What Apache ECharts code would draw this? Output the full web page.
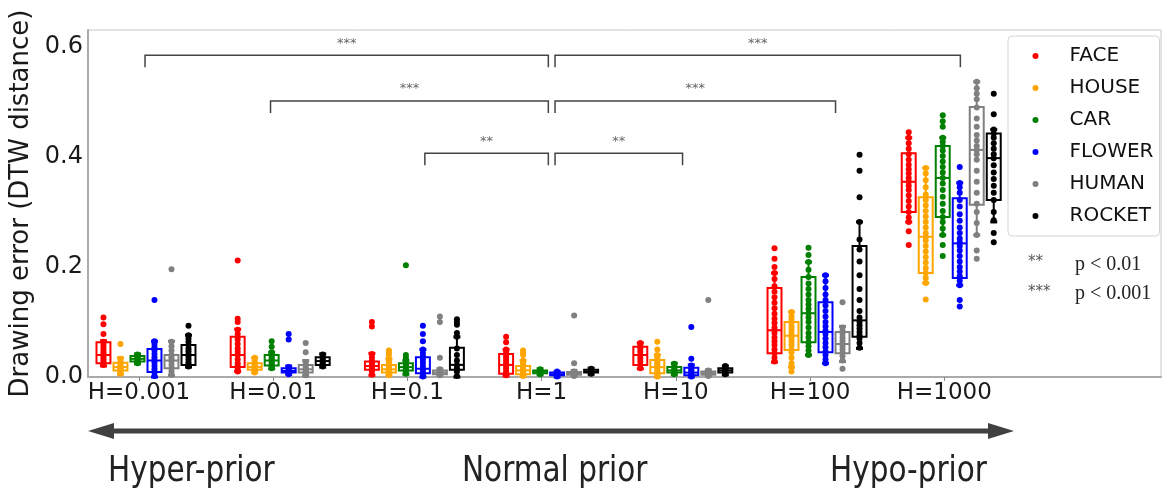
<!DOCTYPE html>
<html><head><meta charset="utf-8">
<script src="https://cdn.jsdelivr.net/npm/echarts@6/dist/echarts.min.js"></script>
<style>html,body{margin:0;padding:0;background:#fff}#c{width:1171px;height:497px}</style>
</head><body><div id="c"></div>
<script>
// ---------- data ----------
const categories = ['H=0.001', 'H=0.01', 'H=0.1', 'H=1', 'H=10', 'H=100', 'H=1000'];
const seriesNames = ['FACE', 'HOUSE', 'CAR', 'FLOWER', 'HUMAN', 'ROCKET'];
const xTicks = [0, 1, 2, 3, 4, 5, 6];
const yTicks = [0, 0.2, 0.4, 0.6];

// box stats per group: [lowWhisker, Q1, median, Q3, highWhisker]
const faceBox = [[0.020,0.025,0.040,0.063,0.066],[0.010,0.018,0.040,0.073,0.087],[0.003,0.013,0.020,0.028,0.043],[0.002,0.006,0.022,0.042,0.050],[0.015,0.022,0.040,0.055,0.062],[0.027,0.043,0.085,0.162,0.189],[0.282,0.300,0.355,0.407,0.435]];
const houseBox = [[0.005,0.012,0.018,0.026,0.035],[0.008,0.013,0.018,0.025,0.035],[0.003,0.008,0.014,0.022,0.033],[0.001,0.005,0.012,0.020,0.030],[0.000,0.007,0.018,0.031,0.040],[0.018,0.049,0.075,0.100,0.118],[0.171,0.189,0.255,0.327,0.380]];
const carBox = [[0.024,0.028,0.033,0.038,0.042],[0.015,0.021,0.030,0.040,0.045],[0.005,0.012,0.018,0.025,0.030],[0.004,0.007,0.010,0.012,0.015],[0.004,0.008,0.012,0.018,0.025],[0.040,0.063,0.116,0.182,0.209],[0.258,0.291,0.362,0.420,0.435]];
const flowerBox = [[0.000,0.009,0.030,0.051,0.065],[0.005,0.008,0.011,0.016,0.020],[0.000,0.007,0.015,0.036,0.050],[0.000,0.003,0.005,0.008,0.010],[0.000,0.003,0.008,0.017,0.022],[0.025,0.045,0.082,0.136,0.185],[0.167,0.180,0.243,0.325,0.353]];
const humanBox = [[0.003,0.016,0.030,0.040,0.065],[0.002,0.008,0.014,0.022,0.030],[0.003,0.005,0.008,0.012,0.015],[0.002,0.004,0.006,0.009,0.012],[0.002,0.004,0.007,0.010,0.013],[0.028,0.043,0.060,0.082,0.092],[0.258,0.313,0.413,0.491,0.537]];
const rocketBox = [[0.018,0.022,0.040,0.058,0.076],[0.018,0.022,0.029,0.036,0.042],[0.000,0.013,0.022,0.053,0.073],[0.005,0.008,0.010,0.013,0.016],[0.004,0.008,0.012,0.016,0.020],[0.052,0.073,0.103,0.238,0.282],[0.282,0.322,0.398,0.443,0.450]];

// individual points per group
const facePoints = [
  [0.022,0.026,0.030,0.034,0.038,0.041,0.045,0.050,0.055,0.060,0.064,0.078,0.096,0.108],
  [0.010,0.014,0.020,0.025,0.032,0.040,0.046,0.052,0.060,0.068,0.078,0.086,0.100,0.106,0.212],
  [0.004,0.010,0.014,0.017,0.020,0.022,0.026,0.030,0.036,0.042,0.092,0.100],
  [0.003,0.006,0.010,0.015,0.020,0.025,0.030,0.035,0.040,0.046,0.050,0.063,0.073],
  [0.016,0.022,0.028,0.034,0.040,0.046,0.052,0.058,0.062],
  [0.028,0.035,0.043,0.050,0.058,0.065,0.072,0.080,0.085,0.090,0.098,0.106,0.115,0.125,0.135,0.145,0.155,0.165,0.178,0.189,0.200,0.215,0.234],
  [0.240,0.265,0.282,0.290,0.300,0.310,0.320,0.330,0.340,0.348,0.355,0.362,0.370,0.378,0.386,0.395,0.405,0.415,0.425,0.435,0.445]
];
const housePoints = [
  [0.006,0.009,0.012,0.014,0.016,0.018,0.020,0.022,0.025,0.028,0.033,0.060],
  [0.008,0.011,0.013,0.015,0.017,0.019,0.021,0.024,0.027,0.031,0.035],
  [0.003,0.006,0.008,0.010,0.012,0.014,0.016,0.019,0.022,0.026,0.030,0.033,0.040,0.044,0.048],
  [0.002,0.005,0.008,0.011,0.013,0.016,0.019,0.022,0.026,0.030,0.040,0.044,0.048],
  [0.001,0.004,0.007,0.011,0.015,0.019,0.023,0.027,0.031,0.036,0.040,0.050,0.064],
  [0.010,0.018,0.025,0.035,0.045,0.050,0.058,0.064,0.070,0.075,0.080,0.086,0.092,0.098,0.104,0.110,0.118],
  [0.141,0.171,0.180,0.189,0.198,0.208,0.218,0.228,0.238,0.248,0.255,0.262,0.272,0.282,0.292,0.302,0.312,0.322,0.332,0.345,0.358,0.370,0.380]
];
const carPoints = [
  [0.025,0.028,0.030,0.032,0.034,0.036,0.038,0.041],
  [0.016,0.020,0.023,0.026,0.029,0.032,0.035,0.038,0.041,0.045,0.055,0.065],
  [0.006,0.010,0.013,0.016,0.018,0.020,0.023,0.026,0.030,0.035,0.040,0.203],
  [0.005,0.007,0.009,0.010,0.011,0.012,0.014],
  [0.005,0.008,0.010,0.012,0.014,0.017,0.020,0.024],
  [0.040,0.048,0.056,0.063,0.072,0.080,0.090,0.100,0.108,0.116,0.124,0.132,0.140,0.150,0.160,0.170,0.182,0.195,0.209,0.222,0.235],
  [0.220,0.240,0.258,0.270,0.282,0.291,0.302,0.315,0.328,0.340,0.352,0.362,0.372,0.382,0.392,0.402,0.412,0.420,0.428,0.435,0.455,0.465,0.476]
];
const flowerPoints = [
  [0.002,0.008,0.014,0.020,0.026,0.031,0.036,0.042,0.048,0.054,0.060,0.065,0.140],
  [0.005,0.007,0.009,0.011,0.013,0.015,0.018,0.068,0.078],
  [0.001,0.005,0.009,0.014,0.020,0.026,0.032,0.038,0.044,0.050,0.065,0.078,0.093],
  [0.001,0.003,0.005,0.006,0.008,0.010],
  [0.001,0.003,0.005,0.008,0.011,0.014,0.017,0.021,0.033,0.091],
  [0.025,0.032,0.040,0.046,0.054,0.062,0.070,0.078,0.084,0.092,0.100,0.110,0.120,0.130,0.140,0.150,0.162,0.174,0.185],
  [0.128,0.140,0.167,0.175,0.183,0.192,0.200,0.210,0.220,0.230,0.238,0.245,0.252,0.262,0.272,0.284,0.296,0.310,0.322,0.335,0.345,0.353,0.382]
];
const humanPoints = [
  [0.004,0.010,0.016,0.022,0.028,0.032,0.036,0.040,0.048,0.056,0.064,0.196],
  [0.003,0.006,0.009,0.012,0.015,0.018,0.022,0.027,0.045,0.062],
  [0.003,0.005,0.007,0.009,0.011,0.014,0.035,0.100,0.110],
  [0.002,0.004,0.006,0.008,0.010,0.025,0.112],
  [0.002,0.004,0.006,0.008,0.010,0.012,0.140],
  [0.015,0.030,0.038,0.044,0.050,0.056,0.061,0.066,0.072,0.078,0.084,0.090,0.136],
  [0.215,0.230,0.258,0.280,0.300,0.315,0.335,0.355,0.375,0.395,0.405,0.413,0.420,0.430,0.440,0.455,0.470,0.490,0.505,0.515,0.525,0.537]
];
const rocketPoints = [
  [0.019,0.023,0.027,0.032,0.037,0.042,0.047,0.052,0.058,0.064,0.070,0.076,0.093],
  [0.019,0.022,0.025,0.028,0.031,0.034,0.037,0.041],
  [0.002,0.010,0.016,0.022,0.030,0.040,0.052,0.073,0.080,0.095,0.100,0.105],
  [0.006,0.008,0.010,0.012,0.015],
  [0.005,0.008,0.010,0.012,0.014,0.017,0.020],
  [0.053,0.062,0.070,0.076,0.082,0.088,0.094,0.100,0.108,0.120,0.140,0.160,0.185,0.210,0.232,0.250,0.282,0.327,0.375,0.404],
  [0.245,0.262,0.285,0.300,0.322,0.335,0.348,0.360,0.372,0.385,0.398,0.405,0.415,0.425,0.435,0.443,0.450,0.478,0.515]
];

// significance brackets
const bracketFrom  = [0.045, 3.10, 0.98, 3.10, 2.13, 3.10];
const bracketTo    = [3.05, 6.12, 3.05, 5.19, 3.05, 4.05];
const bracketLevel = [0.585, 0.585, 0.502, 0.502, 0.407, 0.407];
const bracketLabel = ['***', '***', '***', '***', '**', '**'];

// ---------- styling / layout ----------
const colors = ['#ff0000', '#ffa500', '#008000', '#0000ff', '#808080', '#000000'];
const GROUP_SHIFT = 0.052, STEP = 0.1267, BOX_W = 0.104;
const boxes = [faceBox, houseBox, carBox, flowerBox, humanBox, rocketBox];
const points = [facePoints, housePoints, carPoints, flowerPoints, humanPoints, rocketPoints];

function makeBoxRenderer(color) {
  return function (params, api) {
    const x = api.value(0);
    const c = i => api.coord([x, api.value(i)]);
    const lo = c(1), q1 = c(2), md = c(3), q3 = c(4), hi = c(5);
    const hw = api.size([BOX_W, 0])[0] / 2;
    const cw = hw * 0.5;
    const cx = lo[0];
    const st = { stroke: color, lineWidth: 2, fill: 'none' };
    const cap = { stroke: color, lineWidth: 3, fill: 'none' };
    return {
      type: 'group', children: [
        { type: 'line', shape: { x1: cx, y1: hi[1], x2: cx, y2: q3[1] }, style: st },
        { type: 'line', shape: { x1: cx, y1: q1[1], x2: cx, y2: lo[1] }, style: st },
        { type: 'line', shape: { x1: cx - cw, y1: hi[1], x2: cx + cw, y2: hi[1] }, style: cap },
        { type: 'line', shape: { x1: cx - cw, y1: lo[1], x2: cx + cw, y2: lo[1] }, style: cap },
        { type: 'rect', shape: { x: cx - hw, y: q3[1], width: 2 * hw, height: Math.max(q1[1] - q3[1], 1) }, style: st },
        { type: 'line', shape: { x1: cx - hw, y1: md[1], x2: cx + hw, y2: md[1] }, style: st }
      ]
    };
  };
}

const series = [];
seriesNames.forEach((name, k) => {
  const off = GROUP_SHIFT + (k - 2.5) * STEP;
  series.push({
    type: 'custom', name: name + '_box', silent: true, z: 2,
    renderItem: makeBoxRenderer(colors[k]),
    data: boxes[k].map((b, g) => [g + off].concat(b)),
    encode: { x: 0, y: [1, 2, 3, 4, 5] }
  });
  const pts = [];
  points[k].forEach((arr, g) => arr.forEach(v => pts.push([g + off, v])));
  series.push({
    type: 'scatter', name: name, data: pts, symbol: 'circle', symbolSize: 6, z: 3,
    itemStyle: { color: colors[k], opacity: 1 }
  });
});

series.push({
  type: 'custom', name: 'brackets', silent: true, z: 1,
  data: bracketFrom.map((f, i) => [f, bracketTo[i], bracketLevel[i], i]),
  encode: { x: [0, 1], y: 2 },
  renderItem: function (params, api) {
    const a = api.coord([api.value(0), api.value(2)]);
    const b = api.coord([api.value(1), api.value(2)]);
    const drop = 12;
    return {
      type: 'group', children: [
        { type: 'polyline', shape: { points: [[a[0], a[1] + drop], [a[0], a[1]], [b[0], b[1]], [b[0], b[1] + drop]] },
          style: { stroke: '#444', lineWidth: 1.5, fill: 'none' } },
        { type: 'text', x: (a[0] + b[0]) / 2, y: a[1] - 12,
          style: { text: bracketLabel[api.value(3)], fill: '#666', fontSize: 13, fontFamily: 'DejaVu Sans', align: 'center', verticalAlign: 'middle' } }
      ]
    };
  }
});

const chart = echarts.init(document.getElementById('c'), null, { renderer: 'canvas' });
chart.setOption({
  animation: false,
  backgroundColor: '#fff',
  grid: { left: 88, right: 10, top: 30, bottom: 120, show: true, borderColor: '#c8c8c8', borderWidth: 1, containLabel: false, outerBoundsMode: 'none' },
  xAxis: {
    type: 'value', min: -0.38, max: 7.615,
    axisLine: { show: true, onZero: false, lineStyle: { color: '#aaaaaa', width: 2 } },
    axisTick: { show: true, customValues: xTicks, length: 4, lineStyle: { color: '#888' } },
    axisLabel: { customValues: xTicks, formatter: v => categories[Math.round(v)], fontSize: 23, color: '#1a1a1a', margin: 5, fontFamily: 'DejaVu Sans' },
    splitLine: { show: false }
  },
  yAxis: {
    type: 'value', min: 0, max: 0.631,
    name: 'Drawing error (DTW distance)', nameLocation: 'middle', nameGap: 36,
    nameTextStyle: { fontSize: 26, color: '#1a1a1a', fontFamily: 'DejaVu Sans' },
    axisLine: { show: true, onZero: false, lineStyle: { color: '#aaaaaa', width: 2 } },
    axisTick: { show: false },
    axisLabel: { customValues: yTicks, formatter: v => v.toFixed(1), fontSize: 24, color: '#1a1a1a', margin: 5, fontFamily: 'DejaVu Sans' },
    splitLine: { show: false }
  },
  legend: {
    data: seriesNames, orient: 'vertical', left: 1008, top: 36, padding: [10, 6, 10, 24.5],
    itemWidth: 7, itemHeight: 6, itemGap: 12, selectedMode: false,
    backgroundColor: '#fff', borderColor: '#d4d4d4', borderWidth: 1, borderRadius: 4,
    textStyle: { fontSize: 20, color: '#111', fontFamily: 'DejaVu Sans', padding: [0, 0, 0, 25.5] }
  },
  graphic: [
    { type: 'line', shape: { x1: 108, y1: 431, x2: 994, y2: 431 }, style: { stroke: '#404040', lineWidth: 5 } },
    { type: 'polygon', shape: { points: [[88, 431], [114, 423], [114, 439]] }, style: { fill: '#404040' } },
    { type: 'polygon', shape: { points: [[1014, 431], [988, 423], [988, 439]] }, style: { fill: '#404040' } },
    { type: 'text', x: 108, y: 472, scaleX: 0.82, style: { text: 'Hyper-prior', fontSize: 36, fontFamily: 'DejaVu Sans', fill: '#222', verticalAlign: 'middle' } },
    { type: 'text', x: 462, y: 472, scaleX: 0.82, style: { text: 'Normal prior', fontSize: 36, fontFamily: 'DejaVu Sans', fill: '#222', verticalAlign: 'middle' } },
    { type: 'text', x: 830, y: 472, scaleX: 0.82, style: { text: 'Hypo-prior', fontSize: 36, fontFamily: 'DejaVu Sans', fill: '#222', verticalAlign: 'middle' } },
    { type: 'text', x: 1028, y: 262, style: { text: '**', fontSize: 15, fontFamily: 'DejaVu Sans', fill: '#555', verticalAlign: 'middle' } },
    { type: 'text', x: 1075, y: 265, style: { text: 'p < 0.01', fontSize: 20, fontFamily: 'Liberation Serif', fill: '#222', verticalAlign: 'middle' } },
    { type: 'text', x: 1028, y: 292, style: { text: '***', fontSize: 15, fontFamily: 'DejaVu Sans', fill: '#555', verticalAlign: 'middle' } },
    { type: 'text', x: 1075, y: 294, style: { text: 'p < 0.001', fontSize: 20, fontFamily: 'Liberation Serif', fill: '#222', verticalAlign: 'middle' } }
  ],
  series: series
});
</script></body></html>
